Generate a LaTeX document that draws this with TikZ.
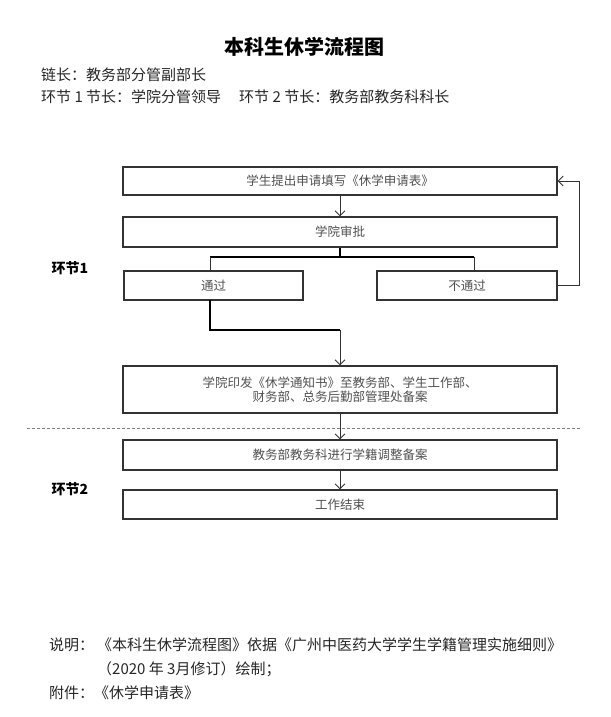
\documentclass[tikz,border=0pt]{standalone}
\usepackage{fontspec}
\setmainfont{Noto Sans CJK SC}
\usetikzlibrary{arrows.meta,calc}
\definecolor{boxtext}{HTML}{505050}
\definecolor{linecol}{HTML}{333333}
\begin{document}
\begin{tikzpicture}[x=1pt,y=-1pt,
  box/.style={draw=linecol, line width=1.1pt, rectangle, inner sep=0pt, align=center,
    font=\fontsize{12.5}{14}\selectfont, text=boxtext},
  arr/.style={draw=linecol, line width=0.9pt, -{Straight Barb[length=5pt,width=10pt,line width=0.9pt]}},
  thinln/.style={draw=linecol, line width=0.9pt},
  thickln/.style={draw=black, line width=2pt},
  head/.style={anchor=west, inner sep=0pt, font=\fontsize{15}{17}\selectfont, text=black!85},
  stage/.style={inner sep=0pt, font=\fontsize{14}{16}\selectfont\bfseries},
]
\useasboundingbox (0,0) rectangle (610,717);

% title and header
\node[inner sep=0pt, font=\fontsize{20}{22}\selectfont\bfseries] (title) at (304,47) {本科生休学流程图};
\node[head] (chain) at (41,75) {链长：教务部分管副部长};
\node[head] (sect) at (41,97) {环节 1 节长：学院分管领导\hspace{1.2em}环节 2 节长：教务部教务科科长};

% boxes
\node[box, minimum width=434pt, minimum height=28pt] (apply) at (340,181) {学生提出申请填写《休学申请表》};
\node[box, minimum width=434pt, minimum height=30pt] (review) at (340,232) {学院审批};
\node[box, minimum width=179pt, minimum height=29pt] (pass) at (213.5,285.5) {通过};
\node[box, minimum width=180pt, minimum height=29pt] (fail) at (467,285.5) {不通过};
\node[box, minimum width=434pt, minimum height=47pt] (notice) at (340,389.5) {学院印发《休学通知书》至教务部、学生工作部、\\财务部、总务后勤部管理处备案};
\node[box, minimum width=434pt, minimum height=30pt] (record) at (340,455) {教务部教务科进行学籍调整备案};
\node[box, minimum width=434pt, minimum height=29pt] (finish) at (340,504.5) {工作结束};

% stage labels
\node[stage] (st1) at (70,268) {环节1};
\node[stage] (st2) at (70,489) {环节2};

% helper coordinates
\coordinate (split) at (340,257);
\coordinate (splitL) at (210,257);
\coordinate (splitR) at (474,257);
\coordinate (passout) at (210,300);
\coordinate (bendA) at (210,330);
\coordinate (bendB) at (340,330);
\coordinate (loop) at (579,285.5);
\coordinate (dashL) at (27,428);
\coordinate (dashR) at (580,428);

% connectors
\draw[arr] (apply) -- (review);
\draw[thickln] (review.south) -- (split);
\draw[thickln] (splitL) -- (splitR);
\draw[thinln] (splitL) -- (splitL |- pass.north);
\draw[thinln] (splitR) -- (splitR |- fail.north);
\draw[thickln] (passout) -- (bendA) -- (bendB);
\draw[arr] (bendB) -- (notice.north);
\draw[arr] (fail.east) -- (loop) |- (apply.east);
\draw[draw=gray, line width=0.9pt, dash pattern=on 3pt off 2pt] (dashL) -- (dashR);
\draw[arr] (notice) -- (record);
\draw[arr] (record) -- (finish);

% footer
\node[head] (noteh) at (49,645) {说明：};
\node[head] (note1) at (97,645) {《本科生休学流程图》依据《广州中医药大学学生学籍管理实施细则》};
\node[head] (note2) at (97,669) {（2020 年 3月修订）绘制；};
\node[head] (attach) at (49,693) {附件：《休学申请表》};
\end{tikzpicture}
\end{document}
